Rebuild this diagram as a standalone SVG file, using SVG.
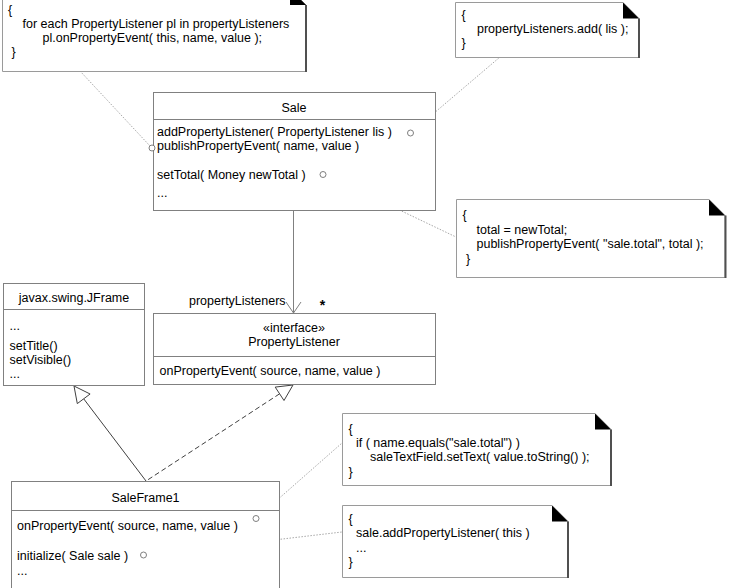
<svg xmlns="http://www.w3.org/2000/svg" width="730" height="588" viewBox="0 0 730 588">
<style>
text{font-family:"Liberation Sans",Arial,sans-serif;font-size:12.5px;fill:#000}
.c{text-anchor:middle}
.box{fill:#fff;stroke:#808080;stroke-width:1}
.div{stroke:#808080;stroke-width:1}
.note{fill:#fff;stroke:#9a9a9a;stroke-width:1}
.fold{fill:#000}
.edge{stroke:#505050;stroke-width:2}
.dot{stroke:#a8a8a8;stroke-width:1;stroke-dasharray:1.5 1.5;fill:none}
.pin{fill:#fff;stroke:#707070;stroke-width:0.9}
.assoc{stroke:#808080;stroke-width:1;fill:none}
.gen{stroke:#404040;stroke-width:1;fill:none}
.tri{fill:#fff;stroke:#404040;stroke-width:1}
</style>
<g id="connectors">
<line class="dot" x1="80" y1="71" x2="150" y2="146"/>
<line class="dot" x1="413" y1="131" x2="500" y2="57"/>
<line class="dot" x1="326" y1="175" x2="456" y2="237"/>
<line class="dot" x1="259" y1="516" x2="342" y2="443"/>
<line class="dot" x1="146.5" y1="555" x2="342" y2="532"/>
<line class="assoc" x1="293.5" y1="210" x2="293.5" y2="313"/>
<polyline class="assoc" points="286,302 293.5,313 301,302"/>
<line class="gen" x1="83.7" y1="398.8" x2="146" y2="481"/>
<polygon class="tri" points="74,386 90.1,394 77.3,403.6"/>
<line class="gen" x1="279.6" y1="393.8" x2="146" y2="481" stroke-dasharray="5 3"/>
<polygon class="tri" points="293,385 284,400.5 275.2,387.1"/>
</g>
<g id="note-publish">
<polygon class="note" points="2.5,-11 290,-11 306,5 306,71.5 2.5,71.5"/>
<polygon class="fold" points="290,-11 290,5 306,5"/>
<line class="edge" x1="306" y1="5" x2="306" y2="72"/>
<text x="8" y="13.5">{</text>
<text x="22.5" y="27.5">for each PropertyListener pl in propertyListeners</text>
<text x="42.5" y="41.5">pl.onPropertyEvent( this, name, value );</text>
<text x="11.5" y="55.5">}</text>
</g>
<g id="note-add">
<polygon class="note" points="455.5,2.5 623,2.5 639,18.5 639,57.5 455.5,57.5"/>
<polygon class="fold" points="623,2.5 623,18.5 639,18.5"/>
<line class="edge" x1="639" y1="18.5" x2="639" y2="58"/>
<text x="461.5" y="19">{</text>
<text x="477" y="33">propertyListeners.add( lis );</text>
<text x="461.5" y="46.5">}</text>
</g>
<g id="note-settotal">
<polygon class="note" points="456.5,199.5 709,199.5 725,215.5 725,277.5 456.5,277.5"/>
<polygon class="fold" points="709,199.5 709,215.5 725,215.5"/>
<line class="edge" x1="725.5" y1="215.5" x2="725.5" y2="278"/>
<text x="462.5" y="219">{</text>
<text x="476.5" y="233.5">total = newTotal;</text>
<text x="476.5" y="248">publishPropertyEvent( "sale.total", total );</text>
<text x="466" y="262.5">}</text>
</g>
<g id="Sale">
<rect class="box" x="153.5" y="92.5" width="282" height="118"/>
<line class="div" x1="153.5" y1="119.5" x2="435.5" y2="119.5"/>
<text class="c" x="294" y="111.5">Sale</text>
<text x="157" y="136">addPropertyListener( PropertyListener lis )</text>
<text x="157" y="149.5">publishPropertyEvent( name, value )</text>
<text x="157" y="178.5">setTotal( Money newTotal )</text>
<text x="157" y="197">...</text>
<circle class="pin" cx="410.5" cy="133" r="3"/>
<circle class="pin" cx="152" cy="148" r="3"/>
<circle class="pin" cx="323" cy="174.5" r="3"/>
</g>
<g id="JFrame">
<rect class="box" x="3.5" y="283.5" width="141" height="102"/>
<line class="div" x1="3.5" y1="309.5" x2="144.5" y2="309.5"/>
<text class="c" x="74" y="301.5">javax.swing.JFrame</text>
<text x="9.5" y="330">...</text>
<text x="9.5" y="350">setTitle()</text>
<text x="9.5" y="364">setVisible()</text>
<text x="9.5" y="377.5">...</text>
</g>
<g id="PropertyListener">
<rect class="box" x="153.5" y="313.5" width="282" height="71"/>
<line class="div" x1="153.5" y1="356.5" x2="435.5" y2="356.5"/>
<text class="c" x="294" y="331.5">«interface»</text>
<text class="c" x="294" y="346">PropertyListener</text>
<text x="159.5" y="375">onPropertyEvent( source, name, value )</text>
</g>
<g id="assoc-labels">
<text x="189" y="305">propertyListeners</text>
<text class="c" x="322.5" y="310" style="font-size:14px;font-weight:bold">*</text>
</g>
<g id="SaleFrame1">
<rect class="box" x="11.5" y="481.5" width="268" height="130"/>
<line class="div" x1="11.5" y1="510.5" x2="279.5" y2="510.5"/>
<text class="c" x="145.5" y="501.5">SaleFrame1</text>
<text x="17" y="529.5">onPropertyEvent( source, name, value )</text>
<text x="17" y="559.5">initialize( Sale sale )</text>
<text x="17" y="574.5">...</text>
<circle class="pin" cx="256" cy="518.5" r="3"/>
<circle class="pin" cx="143.5" cy="555" r="3"/>
</g>
<g id="note-onevent">
<polygon class="note" points="342.5,413.5 595,413.5 611,429.5 611,485.5 342.5,485.5"/>
<polygon class="fold" points="595,413.5 595,429.5 611,429.5"/>
<line class="edge" x1="611" y1="429.5" x2="611" y2="486"/>
<text x="348.5" y="432.5">{</text>
<text x="356" y="447">if ( name.equals("sale.total") )</text>
<text x="370" y="461">saleTextField.setText( value.toString() );</text>
<text x="348.5" y="475.5">}</text>
</g>
<g id="note-init">
<polygon class="note" points="342.5,505.5 552,505.5 568,521.5 568,577.5 342.5,577.5"/>
<polygon class="fold" points="552,505.5 552,521.5 568,521.5"/>
<line class="edge" x1="568" y1="521.5" x2="568" y2="578"/>
<text x="348.5" y="522.5">{</text>
<text x="356" y="537">sale.addPropertyListener( this )</text>
<text x="356" y="551.5">...</text>
<text x="348.5" y="566">}</text>
</g>
</svg>
